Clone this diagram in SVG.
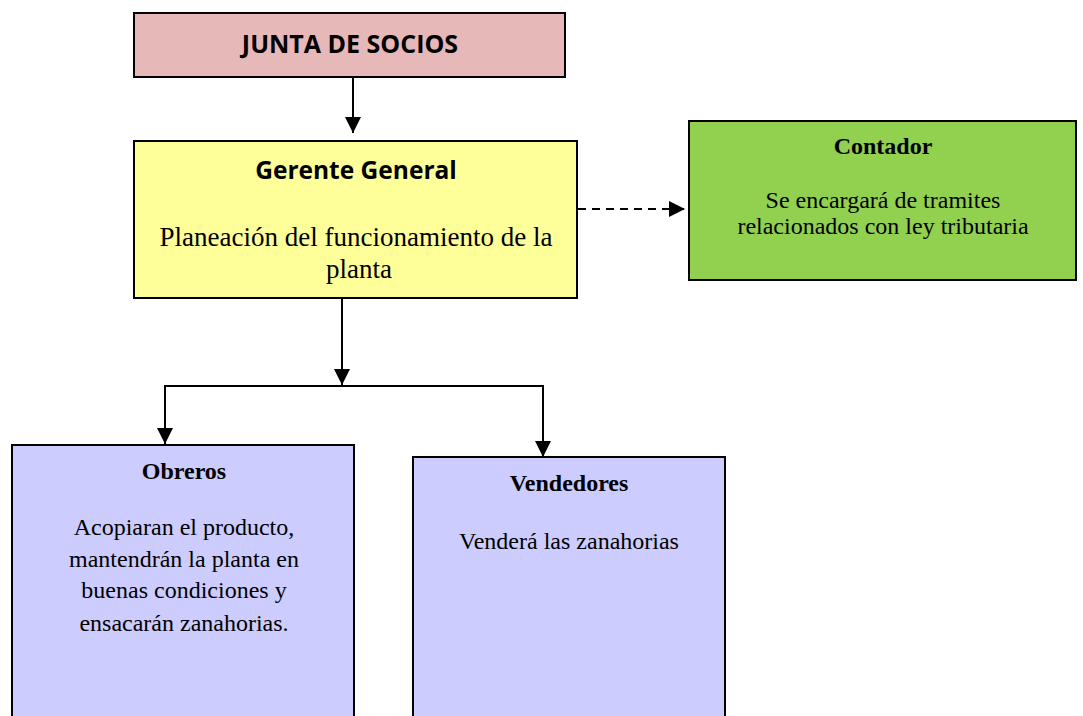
<svg xmlns="http://www.w3.org/2000/svg" width="1083" height="716" viewBox="0 0 1083 716">
<style>
.box{stroke:#000;stroke-width:2}
.sans{font-family:"Open Sans","Liberation Sans",sans-serif;font-weight:bold;fill:#000;text-anchor:middle}
.serif{font-family:"Liberation Serif","Times New Roman",serif;fill:#000;text-anchor:middle;font-size:24px}
.b{font-weight:bold}
.con{stroke:#000;stroke-width:2;fill:none}
</style>
<defs>
<marker id="ah" markerWidth="18" markerHeight="18" refX="16" refY="8" orient="auto" markerUnits="userSpaceOnUse">
<path d="M0,0 L16,8 L0,16 Z" fill="#000"/>
</marker>
</defs>
<rect width="1083" height="716" fill="#fff"/>
<g id="junta">
<rect class="box" x="134" y="13" width="431" height="64" fill="#E6B8B7"/>
<text class="sans" x="350" y="53" font-size="25">JUNTA DE SOCIOS</text>
</g>
<g id="gerente">
<rect class="box" x="134" y="141" width="443" height="157" fill="#FFFF99"/>
<text class="sans" x="356" y="179" font-size="24.5">Gerente General</text>
<text class="serif" x="356" y="246" style="font-size:27px">Planeación del funcionamiento de la</text>
<text class="serif" x="359" y="278" style="font-size:27px">planta</text>
</g>
<g id="contador">
<rect class="box" x="689" y="121" width="387" height="159" fill="#92D050"/>
<text class="serif b" x="883" y="154">Contador</text>
<text class="serif" x="883" y="208">Se encargará de tramites</text>
<text class="serif" x="883" y="234">relacionados con ley tributaria</text>
</g>
<g id="obreros">
<rect class="box" x="12" y="445" width="342" height="280" fill="#CCCCFF"/>
<text class="serif b" x="184" y="479">Obreros</text>
<text class="serif" x="184" y="535">Acopiaran el producto,</text>
<text class="serif" x="184" y="567">mantendrán la planta en</text>
<text class="serif" x="184" y="598">buenas condiciones y</text>
<text class="serif" x="184" y="631">ensacarán zanahorias.</text>
</g>
<g id="vendedores">
<rect class="box" x="413" y="457" width="312" height="268" fill="#CCCCFF"/>
<text class="serif b" x="569" y="491">Vendedores</text>
<text class="serif" x="569" y="549">Venderá las zanahorias</text>
</g>
<g id="connectors">
<path class="con" d="M353,78 V133" marker-end="url(#ah)"/>
<path class="con" d="M578,209 H685" stroke-dasharray="8,6" marker-end="url(#ah)"/>
<path class="con" d="M342,299 V385" marker-end="url(#ah)"/>
<path class="con" d="M165,420 V386 H543 V430"/>
<path class="con" d="M165,420 V444" marker-end="url(#ah)"/>
<path class="con" d="M543,430 V457" marker-end="url(#ah)"/>
</g>
</svg>
